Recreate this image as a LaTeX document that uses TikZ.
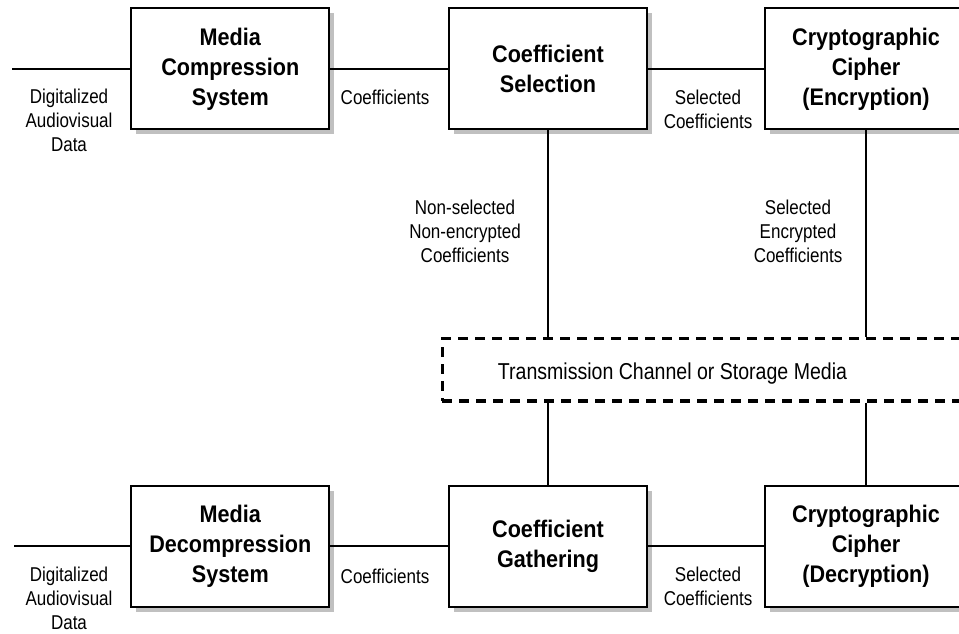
\documentclass[tikz,border=0pt]{standalone}
\usepackage{fontspec}
\setmainfont{Liberation Sans}
\newfontfamily\narrowfont[FakeStretch=0.85]{Liberation Sans}
\newfontfamily\boxfont[FakeStretch=0.9]{Liberation Sans}
\usetikzlibrary{shadows}
\definecolor{shadowgray}{RGB}{192,192,192}
\begin{document}
\begin{tikzpicture}[x=1pt,y=-1pt,
  blockbox/.style={draw, line width=2.2pt, fill=white, minimum width=198pt,
    minimum height=121pt, inner sep=0pt, align=center,
    font=\boxfont\bfseries\fontsize{24}{30}\selectfont,
    drop shadow={shadow xshift=5pt, shadow yshift=-5pt, fill=shadowgray, opacity=1}},
  wire/.style={line width=2pt},
  lbl/.style={align=center, font=\narrowfont\fontsize{20}{24}\selectfont, inner sep=0pt},
  chan/.style={draw, line width=3.3pt, dash pattern=on 10pt off 7pt,
    minimum width=568pt, minimum height=62.5pt, inner sep=0pt},
]
\useasboundingbox (0,0) rectangle (959,634);
\clip (0,0) rectangle (959,634);
% blocks
\node[blockbox] (A) at (230.3,68.8) {Media\\Compression\\System};
\node[blockbox] (B) at (548,68.8) {Coefficient\\Selection};
\node[blockbox, minimum width=202pt] (C) at (866,68.8) {Cryptographic\\Cipher\\(Encryption)};
\node[blockbox] (D) at (230.3,546.3) {Media\\Decompression\\System};
\node[blockbox] (E) at (548,546.3) {Coefficient\\Gathering};
\node[blockbox, minimum width=202pt] (F) at (866,546.3) {Cryptographic\\Cipher\\(Decryption)};
% channel
\node[chan] (T) at (726.3,369.75) {};
\node[font=\narrowfont\fontsize{23}{28}\selectfont, inner sep=0pt, anchor=base] (TT) at (672.5,379) {Transmission Channel or Storage Media};
% free ends
\coordinate (inA) at (12,68.8);
\coordinate (inD) at (14,546.3);
% wires
\draw[wire] (inA) -- (A.west);
\draw[wire] (A.east) -- (B.west);
\draw[wire] (B.east) -- (C.west);
\draw[wire] (B.south) -- (B.south |- T.north);
\draw[wire] (C.south) -- (C.south |- T.north);
\draw[wire] (inD) -- (D.west);
\draw[wire] (D.east) -- (E.west);
\draw[wire] (E.east) -- (F.west);
\draw[wire] (T.south -| E.north) -- (E.north);
\draw[wire] (T.south -| F.north) -- (F.north);
% labels
\node[lbl] (l1) at (69,120.7) {Digitalized\\Audiovisual\\Data};
\node[lbl, anchor=base] (l2) at (385,104) {Coefficients};
\node[lbl] (l3) at (708,109.5) {Selected\\Coefficients};
\node[lbl] (l4) at (465,231.2) {Non-selected\\Non-encrypted\\Coefficients};
\node[lbl] (l5) at (798,231.2) {Selected\\Encrypted\\Coefficients};
\node[lbl] (l6) at (69,598.7) {Digitalized\\Audiovisual\\Data};
\node[lbl, anchor=base] (l7) at (385,583) {Coefficients};
\node[lbl] (l8) at (708,586.7) {Selected\\Coefficients};
\end{tikzpicture}
\end{document}
